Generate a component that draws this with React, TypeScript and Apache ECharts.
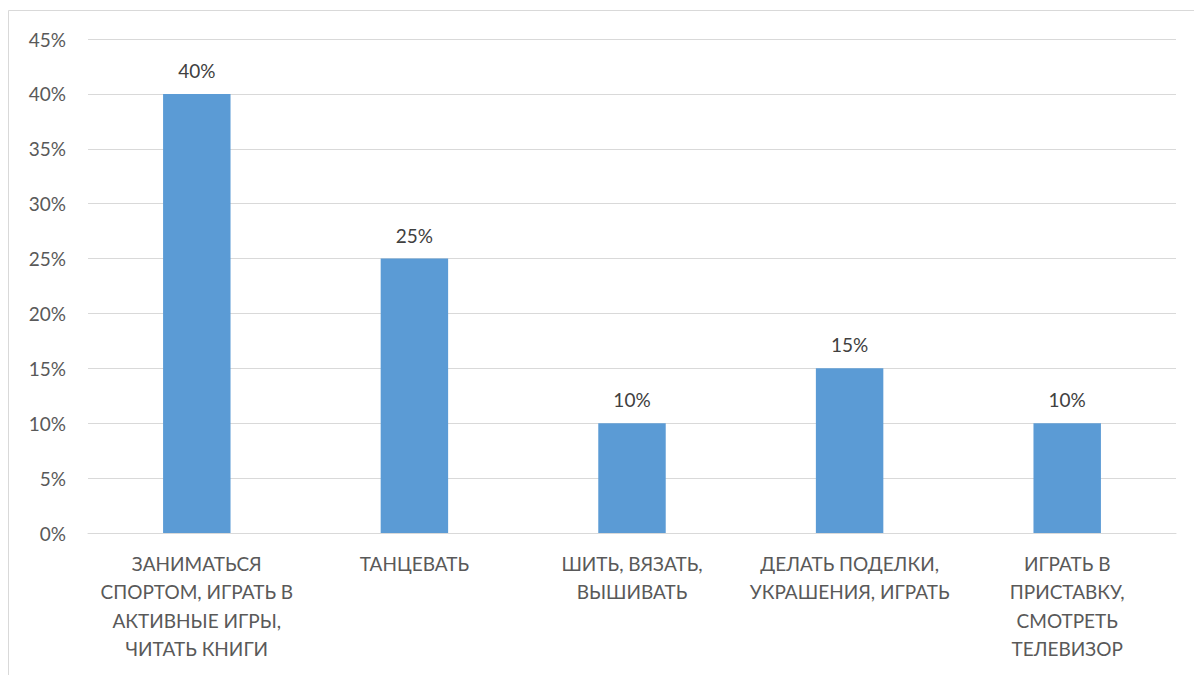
import React, { useEffect, useRef } from "react";
import * as echarts from "echarts";

const categories = [
  "ЗАНИМАТЬСЯ\nСПОРТОМ, ИГРАТЬ В\nАКТИВНЫЕ ИГРЫ,\nЧИТАТЬ КНИГИ",
  "ТАНЦЕВАТЬ",
  "ШИТЬ, ВЯЗАТЬ,\nВЫШИВАТЬ",
  "ДЕЛАТЬ ПОДЕЛКИ,\nУКРАШЕНИЯ, ИГРАТЬ",
  "ИГРАТЬ В\nПРИСТАВКУ,\nСМОТРЕТЬ\nТЕЛЕВИЗОР",
];
const values = [40, 25, 10, 15, 10];
const yMin = 0;
const yMax = 45;
const yStep = 5;

const FONT = "Lato, 'Open Sans', sans-serif";

export default function App() {
  const ref = useRef<HTMLDivElement>(null);
  useEffect(() => {
    document.body.style.margin = "0";
    const chart = echarts.init(ref.current!, null, { renderer: "svg" });
    chart.setOption({
      animation: false,
      backgroundColor: "#ffffff",
      graphic: [
        {
          type: "rect",
          shape: { x: 8.5, y: 10.5, width: 1250, height: 700 },
          style: { fill: "none", stroke: "#d9d9d9", lineWidth: 1 },
          silent: true,
        },
      ],
      grid: { left: 88, right: 18, top: 39, bottom: 142, containLabel: false },
      xAxis: {
        type: "category",
        data: categories,
        axisLine: { show: true, lineStyle: { color: "#d9d9d9", width: 1 } },
        axisTick: { show: false },
        axisLabel: {
          interval: 0,
          color: "#595959",
          fontFamily: FONT,
          fontSize: 19,
          lineHeight: 28.5,
          margin: 16,
          align: "center",
        },
      },
      yAxis: {
        type: "value",
        min: yMin,
        max: yMax,
        interval: yStep,
        axisLine: { show: false },
        axisTick: { show: false },
        splitLine: { lineStyle: { color: "#d9d9d9", width: 1 } },
        axisLabel: {
          formatter: (v: number) => `${v}%`,
          color: "#595959",
          fontFamily: FONT,
          fontSize: 19,
          margin: 22,
        },
      },
      series: [
        {
          type: "bar",
          data: values,
          barWidth: "31%",
          itemStyle: { color: "#5b9bd5" },
          label: {
            show: true,
            position: "top",
            distance: 14,
            formatter: (p: any) => `${p.value}%`,
            color: "#404040",
            fontFamily: FONT,
            fontSize: 19,
          },
        },
      ],
    });
    return () => chart.dispose();
  }, []);
  return <div ref={ref} style={{ width: 1194, height: 675 }} />;
}
